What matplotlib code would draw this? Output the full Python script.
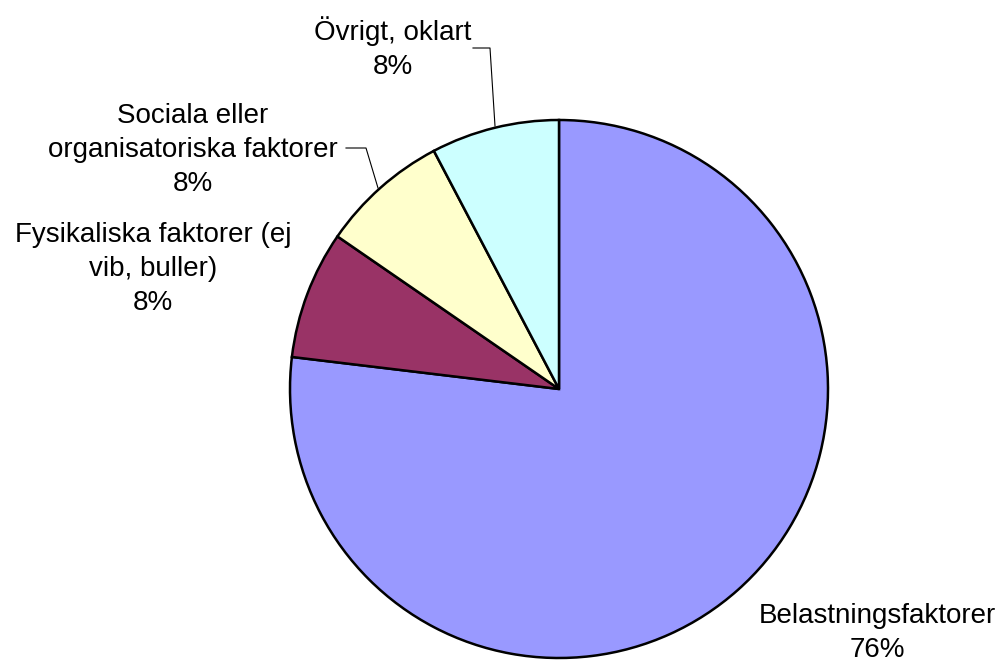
import matplotlib
matplotlib.use("Agg")
import matplotlib.pyplot as plt

categories = ["Belastningsfaktorer", "Fysikaliska faktorer (ej\nvib, buller)",
              "Sociala eller\norganisatoriska faktorer", "Övrigt, oklart"]
values = [76.9, 7.7, 7.7, 7.7]
pct_labels = ["76%", "8%", "8%", "8%"]
colors = ["#9999FF", "#993366", "#FFFFCC", "#CCFFFF"]

W, H = 1002, 663
fig = plt.figure(figsize=(W / 100, H / 100), dpi=100)
ax = fig.add_axes([0, 0, 1, 1])

cx, cy, r = 559, H - 389, 269
ax.pie(values, colors=colors, startangle=90, counterclock=False,
       center=(cx, cy), radius=r,
       wedgeprops=dict(edgecolor="black", linewidth=1.8))
ax.set_xlim(0, W)
ax.set_ylim(0, H)
ax.set_aspect("equal")
ax.axis("off")

font = dict(family="Liberation Sans", fontsize=20, color="black",
            ha="center", va="center", linespacing=1.38)

# label positions (pixel coords, y from top)
label_pos = [(877, 633), (153, 269), (193, 150), (393, 48)]
for cat, pct, (x, y) in zip(categories, pct_labels, label_pos):
    ax.text(x, H - y, cat + "\n" + pct, **font)

# leader lines
ax.plot([473, 490, 495], [H - 48, H - 48, H - 126], color="black", lw=0.8)
ax.plot([346, 366, 378], [H - 148, H - 148, H - 188], color="black", lw=0.8)

fig.savefig("out.png", dpi=100)
